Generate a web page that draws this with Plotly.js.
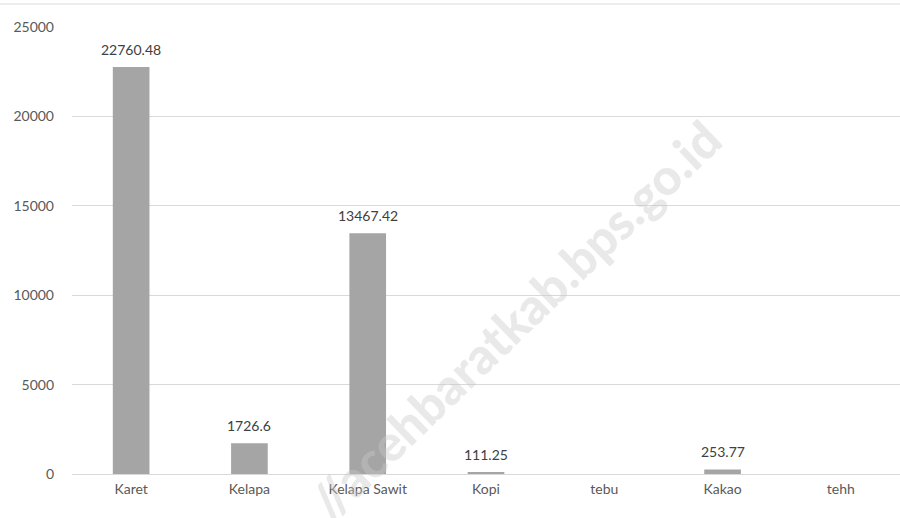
<!DOCTYPE html>
<html><head><meta charset="utf-8">
<script src="https://cdn.plot.ly/plotly-3.0.1.min.js"></script>
<style>html,body{margin:0;padding:0;background:#fff}#c{width:900px;height:518px}</style>
</head><body><div id="c"></div>
<script>
const categories = ["Karet","Kelapa","Kelapa Sawit","Kopi","tebu","Kakao","tehh"];
const values = [22760.48, 1726.6, 13467.42, 111.25, null, 253.77, null];
const labels = ["22760.48","1726.6","13467.42","111.25","","253.77",""];
const yTicks = [0,5000,10000,15000,20000,25000];

const font = "Lato, 'Open Sans', sans-serif";
const trace = {
  type: "bar", x: categories, y: values,
  marker: {color: "#a5a5a5"},
  hoverinfo: "skip"
};
const labelAnns = categories.map((c, i) => ({
  x: c, y: values[i] || 0, xref: "x", yref: "y", text: labels[i], showarrow: false,
  yanchor: "bottom", yshift: 7,
  font: {family: font, size: 14, color: "#404040"}
})).filter(a => a.text);
const layout = {
  width: 900, height: 518,
  margin: {l: 72, r: 0, t: 27, b: 44},
  paper_bgcolor: "#fff", plot_bgcolor: "#fff",
  showlegend: false,
  bargap: 0.69,
  xaxis: {showgrid: false, showline: false, zeroline: false, ticks: "", ticklabelstandoff: 5,
          tickfont: {family: font, size: 14, color: "#595959"}},
  yaxis: {range: [0, 25000], tickvals: yTicks, ticktext: yTicks.map(String),
          showgrid: true, gridcolor: "#d9d9d9", gridwidth: 1,
          zeroline: true, zerolinecolor: "#d9d9d9", zerolinewidth: 1,
          showline: false, ticks: "", ticklabelstandoff: 17,
          tickfont: {family: font, size: 14, color: "#595959"}},
  shapes: [{type: "line", xref: "paper", yref: "paper", x0: -0.087, x1: 1, y0: 1.0515, y1: 1.0515,
            line: {color: "#d9d9d9", width: 1}}],
  annotations: labelAnns.concat([{text: "//acehbaratkab.bps.go.id", xref: "paper", yref: "paper",
                 x: 0.535, y: 0.345, xanchor: "center", yanchor: "middle", showarrow: false, textangle: -44,
                 font: {family: "Lato, 'Open Sans', sans-serif", size: 50, color: "rgba(200,200,200,0.4)", weight: 900}}])
};
Plotly.newPlot("c", [trace], layout, {staticPlot: true, displayModeBar: false});
</script></body></html>
